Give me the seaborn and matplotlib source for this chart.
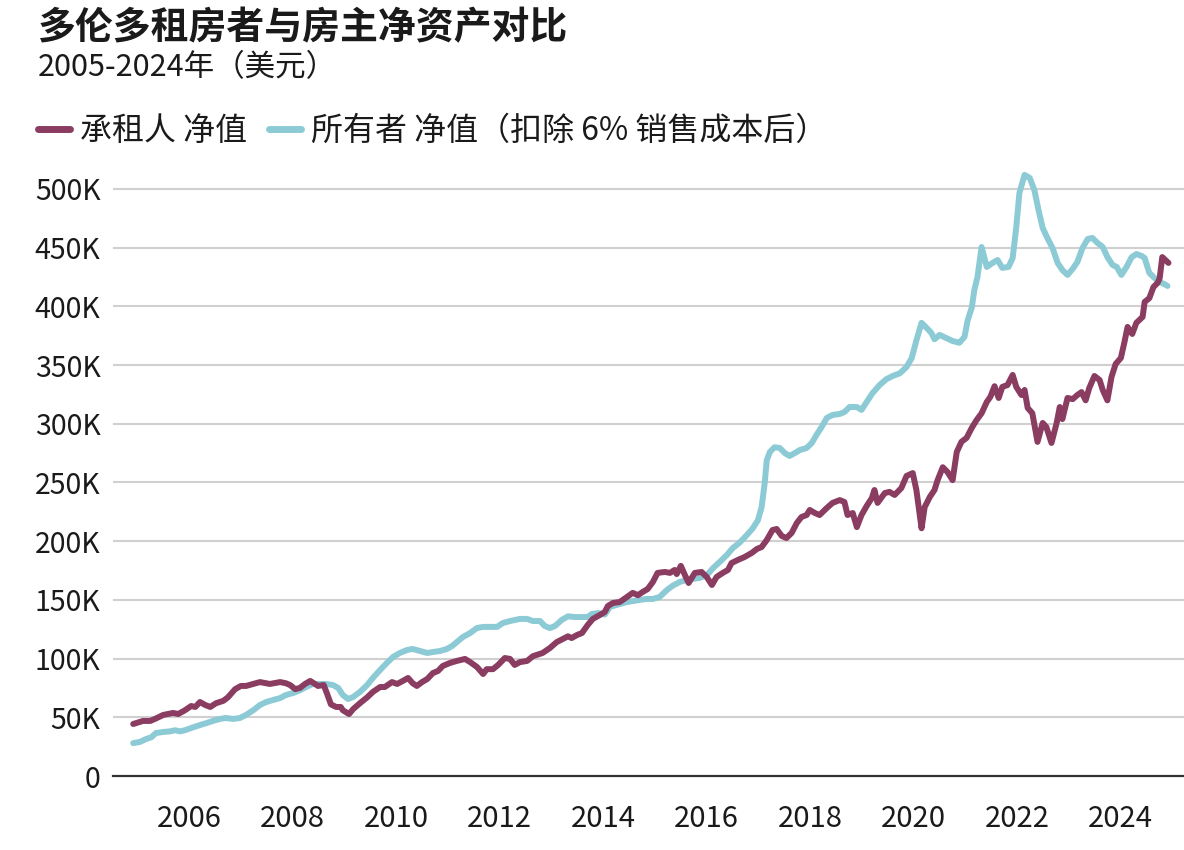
import pandas as pd
import matplotlib
matplotlib.use("Agg")
import matplotlib.pyplot as plt
import seaborn as sns
from matplotlib.lines import Line2D

# Values (decimal years, thousands of USD)
renter_years = [
    2004.92, 2005.11, 2005.25, 2005.36, 2005.50, 2005.69, 2005.79, 2005.92,
    2006.04, 2006.12, 2006.21, 2006.31, 2006.41, 2006.52, 2006.66, 2006.75,
    2006.89, 2007.00, 2007.10, 2007.24, 2007.37, 2007.56, 2007.76, 2007.87,
    2007.95, 2008.05, 2008.14, 2008.24, 2008.34, 2008.43, 2008.49, 2008.60,
    2008.66, 2008.74, 2008.84, 2008.93, 2008.97, 2009.09, 2009.17, 2009.30,
    2009.44, 2009.55, 2009.69, 2009.78, 2009.92, 2010.02, 2010.13, 2010.23,
    2010.32, 2010.40, 2010.50, 2010.60, 2010.71, 2010.81, 2010.90, 2011.04,
    2011.17, 2011.33, 2011.43, 2011.56, 2011.68, 2011.75, 2011.87, 2011.97,
    2012.10, 2012.20, 2012.29, 2012.39, 2012.53, 2012.64, 2012.83, 2012.97,
    2013.10, 2013.22, 2013.32, 2013.39, 2013.49, 2013.59, 2013.70, 2013.80,
    2013.93, 2014.03, 2014.09, 2014.19, 2014.32, 2014.46, 2014.57, 2014.67,
    2014.76, 2014.86, 2014.96, 2015.05, 2015.19, 2015.29, 2015.38, 2015.42,
    2015.50, 2015.58, 2015.65, 2015.77, 2015.90, 2016.00, 2016.10, 2016.19,
    2016.31, 2016.41, 2016.48, 2016.60, 2016.73, 2016.87, 2016.97, 2017.06,
    2017.16, 2017.27, 2017.35, 2017.45, 2017.54, 2017.64, 2017.74, 2017.83,
    2017.93, 2017.99, 2018.09, 2018.18, 2018.32, 2018.43, 2018.57, 2018.66,
    2018.72, 2018.82, 2018.90, 2018.99, 2019.09, 2019.19, 2019.24, 2019.30,
    2019.44, 2019.53, 2019.63, 2019.76, 2019.86, 2019.98, 2020.05, 2020.11,
    2020.15, 2020.21, 2020.31, 2020.40, 2020.46, 2020.56, 2020.65, 2020.75,
    2020.83, 2020.92, 2021.02, 2021.12, 2021.21, 2021.31, 2021.41, 2021.48,
    2021.56, 2021.64, 2021.71, 2021.81, 2021.91, 2021.98, 2022.08, 2022.14,
    2022.20, 2022.29, 2022.39, 2022.49, 2022.56, 2022.66, 2022.76, 2022.82,
    2022.87, 2022.97, 2023.07, 2023.16, 2023.24, 2023.32, 2023.39, 2023.49,
    2023.59, 2023.65, 2023.74, 2023.82, 2023.90, 2024.00, 2024.07, 2024.13,
    2024.22, 2024.30, 2024.42, 2024.46, 2024.55, 2024.63, 2024.71, 2024.75,
    2024.80, 2024.88, 2024.92,
]
renter_values = [
    44.3, 46.9, 46.9, 49.0, 52.0, 53.7, 52.8, 56.0,
    59.6, 58.8, 63.0, 60.5, 58.8, 62.0, 64.0, 67.0,
    74.0, 76.7, 76.7, 78.4, 80.0, 78.4, 80.0, 79.0,
    77.5, 74.0, 75.0, 78.4, 81.0, 78.4, 76.7, 77.5,
    70.7, 61.0, 58.8, 58.8, 56.0, 52.8, 57.0, 62.0,
    67.0, 71.6, 75.8, 75.8, 80.0, 78.4, 81.0, 83.5,
    79.0, 76.7, 80.0, 82.6, 87.7, 89.5, 93.7, 96.3,
    98.0, 99.7, 97.0, 92.9, 86.9, 91.0, 91.0, 94.6,
    100.5, 99.7, 94.6, 97.0, 98.0, 102.0, 104.8, 109.0,
    114.0, 116.7, 119.0, 117.5, 120.0, 121.8, 128.6, 133.8,
    137.0, 139.7, 144.8, 147.4, 148.2, 152.5, 156.0, 154.0,
    156.7, 159.3, 165.3, 173.0, 173.8, 173.0, 175.5, 172.0,
    179.0, 171.0, 164.4, 173.0, 173.8, 169.5, 162.7, 169.5,
    173.0, 175.5, 181.4, 184.0, 186.5, 190.0, 193.4, 195.0,
    201.0, 209.5, 210.4, 204.4, 202.7, 207.0, 215.5, 220.6,
    222.3, 226.6, 224.0, 222.3, 228.3, 232.6, 235.0, 233.4,
    222.3, 224.0, 212.0, 222.3, 230.0, 236.8, 243.6, 232.6,
    241.0, 242.0, 239.4, 245.3, 255.6, 258.0, 243.6, 224.0,
    211.0, 229.0, 237.7, 243.6, 252.0, 263.0, 259.0, 252.0,
    276.0, 284.6, 288.0, 296.5, 303.0, 309.0, 318.6, 323.0,
    332.0, 322.0, 331.4, 333.0, 341.6, 331.4, 324.5, 328.8,
    313.5, 309.0, 284.6, 300.7, 297.3, 283.7, 300.7, 314.3,
    304.0, 322.0, 321.0, 324.5, 327.0, 320.0, 330.5, 340.7,
    337.3, 328.8, 320.0, 340.0, 351.0, 356.0, 369.7, 382.5,
    376.5, 386.0, 391.0, 403.8, 407.0, 416.5, 420.0, 424.0,
    442.0, 438.7, 437.0,
]

owner_years = [
    2004.92, 2005.05, 2005.17, 2005.27, 2005.36, 2005.50, 2005.63, 2005.73,
    2005.83, 2005.92, 2006.04, 2006.21, 2006.33, 2006.46, 2006.60, 2006.71,
    2006.85, 2006.98, 2007.10, 2007.24, 2007.37, 2007.49, 2007.62, 2007.76,
    2007.87, 2008.01, 2008.14, 2008.26, 2008.39, 2008.53, 2008.64, 2008.78,
    2008.88, 2008.97, 2009.07, 2009.17, 2009.30, 2009.44, 2009.55, 2009.69,
    2009.82, 2009.94, 2010.07, 2010.21, 2010.32, 2010.46, 2010.60, 2010.71,
    2010.85, 2010.98, 2011.08, 2011.17, 2011.29, 2011.43, 2011.56, 2011.68,
    2011.81, 2011.95, 2012.06, 2012.20, 2012.39, 2012.53, 2012.64, 2012.78,
    2012.87, 2012.97, 2013.07, 2013.20, 2013.32, 2013.45, 2013.59, 2013.70,
    2013.78, 2013.90, 2014.03, 2014.13, 2014.32, 2014.46, 2014.57, 2014.71,
    2014.84, 2014.96, 2015.09, 2015.23, 2015.34, 2015.48, 2015.61, 2015.73,
    2015.86, 2016.00, 2016.12, 2016.25, 2016.39, 2016.50, 2016.64, 2016.77,
    2016.89, 2016.99, 2017.06, 2017.12, 2017.16, 2017.22, 2017.31, 2017.41,
    2017.51, 2017.60, 2017.70, 2017.80, 2017.93, 2018.03, 2018.12, 2018.22,
    2018.32, 2018.43, 2018.57, 2018.66, 2018.76, 2018.90, 2018.99, 2019.09,
    2019.20, 2019.34, 2019.47, 2019.59, 2019.73, 2019.86, 2019.96, 2020.05,
    2020.15, 2020.25, 2020.34, 2020.40, 2020.50, 2020.63, 2020.75, 2020.88,
    2020.98, 2021.04, 2021.12, 2021.17, 2021.23, 2021.31, 2021.41, 2021.52,
    2021.62, 2021.71, 2021.83, 2021.91, 2021.98, 2022.04, 2022.14, 2022.24,
    2022.33, 2022.41, 2022.49, 2022.58, 2022.68, 2022.78, 2022.87, 2022.97,
    2023.07, 2023.16, 2023.26, 2023.36, 2023.45, 2023.55, 2023.65, 2023.74,
    2023.84, 2023.92, 2024.01, 2024.11, 2024.21, 2024.30, 2024.40, 2024.46,
    2024.55, 2024.65, 2024.75, 2024.84, 2024.90,
]
owner_values = [
    28.0, 29.0, 31.5, 33.0, 36.6, 37.5, 38.0, 39.0,
    38.0, 39.0, 40.9, 43.4, 45.0, 46.9, 48.6, 49.4,
    48.6, 49.4, 52.0, 56.0, 60.5, 63.0, 64.7, 66.4,
    69.0, 70.7, 73.0, 75.8, 78.4, 78.4, 78.4, 77.5,
    75.0, 69.0, 65.6, 67.3, 71.6, 77.5, 83.5, 90.3,
    96.3, 101.4, 104.8, 107.3, 108.2, 106.5, 104.8, 105.6,
    106.5, 108.2, 110.7, 114.0, 118.4, 121.8, 126.0, 127.0,
    127.0, 127.0, 130.3, 132.0, 133.8, 133.8, 132.0, 132.0,
    127.8, 126.0, 127.8, 133.0, 136.0, 135.4, 135.4, 135.4,
    138.0, 138.8, 137.5, 144.0, 146.5, 148.2, 149.0, 150.0,
    150.8, 150.8, 152.5, 158.4, 162.0, 165.3, 167.0, 167.8,
    168.7, 171.0, 177.0, 182.3, 188.3, 194.0, 199.0, 205.0,
    211.0, 218.0, 229.0, 249.6, 269.0, 276.0, 280.0, 279.4,
    275.0, 272.6, 275.0, 277.7, 279.4, 283.7, 290.5, 297.3,
    305.0, 307.5, 308.4, 310.0, 314.3, 314.3, 311.8, 318.6,
    326.0, 333.0, 338.0, 340.7, 343.0, 348.4, 356.0, 371.0,
    386.0, 381.6, 377.4, 372.0, 375.7, 373.0, 370.5, 369.0,
    374.0, 388.0, 399.0, 414.0, 425.0, 450.6, 433.6, 437.0,
    439.5, 432.8, 433.6, 441.2, 467.6, 496.6, 512.0, 509.4,
    499.0, 482.0, 466.8, 458.3, 449.8, 437.0, 431.0, 426.8,
    432.0, 437.8, 449.8, 457.4, 458.3, 454.0, 450.6, 442.0,
    435.3, 433.6, 426.8, 433.6, 442.0, 444.6, 443.0, 441.2,
    428.5, 424.2, 420.8, 419.0, 417.4,
]

series_names = ["承租人 净值", "所有者 净值（扣除 6% 销售成本后）"]
series_colors = ["#8a3c61", "#8ccbd5"]

x_ticks = [2006, 2008, 2010, 2012, 2014, 2016, 2018, 2020, 2022, 2024]
y_ticks = [0, 50, 100, 150, 200, 250, 300, 350, 400, 450, 500]

title = "多伦多租房者与房主净资产对比"
subtitle = "2005-2024年（美元）"

# long-form table for seaborn
df = pd.concat([
    pd.DataFrame({"year": renter_years, "value": renter_values, "series": series_names[0]}),
    pd.DataFrame({"year": owner_years, "value": owner_values, "series": series_names[1]}),
], ignore_index=True)

sns.set_style("white")
plt.rcParams["font.family"] = ["Noto Sans CJK SC", "DejaVu Sans"]
plt.rcParams["text.color"] = "#1a1a1a"

fig = plt.figure(figsize=(11.84, 8.5), dpi=100)
ax = fig.add_axes([113 / 1184, 1 - 776 / 850, 1 - 113 / 1184, (776 - 165.5) / 850])

# gridlines
for v in y_ticks[1:]:
    ax.axhline(v, color="#d0d0d0", lw=1.5, zorder=0)

palette = dict(zip(series_names, series_colors))
sns.lineplot(data=df, x="year", y="value", hue="series", palette=palette,
             hue_order=series_names[::-1], estimator=None, sort=True,
             lw=4.3, solid_capstyle="round", solid_joinstyle="round",
             legend=False, ax=ax)

ax.set_xlim(2004.53, 2025.22)
ax.set_ylim(0, 520)
ax.set_xlabel("")
ax.set_ylabel("")

for side in ["top", "right", "left"]:
    ax.spines[side].set_visible(False)
ax.spines["bottom"].set_color("#333333")
ax.spines["bottom"].set_linewidth(1.6)

ax.set_xticks(x_ticks)
ax.set_xticklabels([str(t) for t in x_ticks])
ax.set_yticks(y_ticks)
ax.set_yticklabels(["0" if v == 0 else f"{v}K" for v in y_ticks])
ax.tick_params(axis="x", length=8, width=1.5, color="#333333", pad=12,
               labelsize=21, labelcolor="#1a1a1a")
ax.tick_params(axis="y", length=0, pad=9, labelsize=20.5, labelcolor="#1a1a1a")

# title and subtitle
fig.text(38 / 1184, 1 - 28 / 850, title, fontsize=27.3, fontweight="bold",
         va="center", ha="left")
fig.text(38 / 1184, 1 - 68 / 850, subtitle, fontsize=22, va="center", ha="left")

# legend
handles = [Line2D([0], [0], color=c, lw=5, solid_capstyle="round") for c in series_colors]
fig.legend(handles, series_names, loc="center left",
           bbox_to_anchor=(38 / 1184, 1 - 131 / 850), ncol=2, frameon=False,
           fontsize=23, handlelength=1.0, handletextpad=0.3,
           columnspacing=0.7, borderpad=0, borderaxespad=0)

fig.savefig("out.png", dpi=100)
